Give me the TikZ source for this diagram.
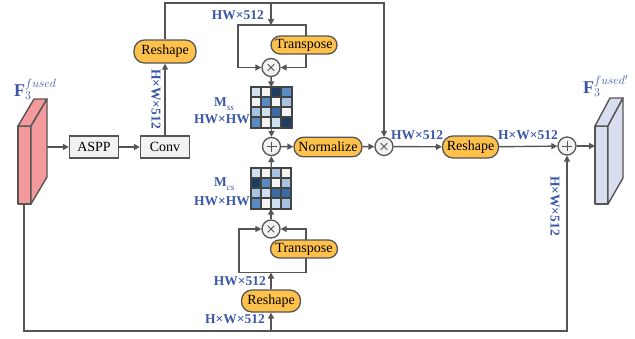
\documentclass[tikz,border=0pt]{standalone}
\usepackage{fontspec}
\setmainfont{Liberation Serif}
\usetikzlibrary{arrows.meta,calc}

\definecolor{linegray}{HTML}{555555}
\definecolor{pillfill}{HTML}{FEC24C}
\definecolor{boxfill}{HTML}{F2F2F2}
\definecolor{lblue}{HTML}{3A56A6}
\definecolor{pinkface}{HTML}{F4999C}
\definecolor{lavface}{HTML}{D8DEEF}
\definecolor{hm0}{HTML}{F4F4F4}
\definecolor{hm1}{HTML}{CFE0F1}
\definecolor{hm2}{HTML}{A6C4E2}
\definecolor{hm3}{HTML}{5A8CC4}
\definecolor{hm4}{HTML}{3B6CA3}
\definecolor{hm5}{HTML}{1E3B60}

% 4x4 heat map filling the square node #1, colours given row by row
\newcommand{\heatgrid}[2]{%
  \foreach \cellcol [count=\k from 0] in {#2} {%
    \pgfmathtruncatemacro{\hx}{mod(\k,4)}%
    \pgfmathtruncatemacro{\hy}{div(\k,4)}%
    \fill[\cellcol] ($(#1.north west)+(\hx*10,\hy*10)$) rectangle +(10,10);%
  }%
  \foreach \t in {10,20,30} {%
    \draw[gridline] ($(#1.north west)+(\t,0)$) -- +(0,40);%
    \draw[gridline] ($(#1.north west)+(0,\t)$) -- +(40,0);%
  }%
  \draw[gridline] (#1.north west) rectangle (#1.south east);%
}

\begin{document}
\begin{tikzpicture}[x=1pt,y=-1pt,
  wire/.style={draw=linegray, line width=1.4pt},
  conn/.style={wire, -{Triangle[length=6pt,width=6pt]}},
  gridline/.style={draw=linegray!80!black, line width=1.7pt, line cap=rect},
  opbox/.style={rectangle, draw=linegray, line width=1.3pt, fill=boxfill,
    minimum width=49pt, minimum height=22pt, inner sep=0pt,
    font=\fontsize{14}{16}\selectfont},
  pill/.style={rectangle, rounded corners=#1, draw=linegray, line width=1.3pt,
    fill=pillfill, minimum height=22pt, inner sep=0pt,
    font=\fontsize{14}{16}\selectfont},
  pill/.default=10.5pt,
  opcirc/.style={circle, draw=linegray, line width=1.3pt, fill=boxfill,
    minimum size=18pt, inner sep=0pt},
  mulop/.style={opcirc, path picture={
    \draw[linegray, line width=1pt]
      ($(path picture bounding box.center)+(-3.3,-3.3)$) -- +(6.6,6.6)
      ($(path picture bounding box.center)+(-3.3,3.3)$) -- +(6.6,-6.6);}},
  addop/.style={opcirc, path picture={
    \draw[linegray, line width=1pt]
      ($(path picture bounding box.center)+(-5,0)$) -- +(10,0)
      ($(path picture bounding box.center)+(0,-5)$) -- +(0,10);}},
  heat/.style={rectangle, minimum size=40pt, inner sep=0pt},
  dim/.style={text=lblue, inner sep=0pt, font=\fontsize{13.5}{15}\selectfont\bfseries},
  feat/.style={text=lblue, inner sep=0pt, font=\fontsize{18}{20}\selectfont},
  face/.style={draw=linegray, line width=1.4pt, line join=round}
]
\useasboundingbox (0,0) rectangle (635,338);

% input and output feature blocks
\filldraw[face, fill=pinkface] (18,126) rectangle (31,204);
\filldraw[face, fill=pinkface] (18,126) -- (34,99) -- (47,99) -- (31,126) -- cycle;
\filldraw[face, fill=pinkface] (31,126) -- (47,99) -- (47,177) -- (31,204) -- cycle;
\filldraw[face, fill=lavface] (595,126) rectangle (608,204);
\filldraw[face, fill=lavface] (595,126) -- (610,98) -- (623,98) -- (608,126) -- cycle;
\filldraw[face, fill=lavface] (608,126) -- (623,98) -- (623,178) -- (608,204) -- cycle;
\node[feat, anchor=base west] (fin) at (14,96) {$\mathbf{F}_3^{fused}$};
\node[feat, anchor=base west] (fout) at (583,93) {$\mathbf{F}_3^{fused'}$};

\coordinate (lout) at (47,147);
\coordinate (lbot) at (24,204);
\coordinate (rin) at (595,146);

% operation nodes
\node[opbox] (aspp) at (94,147) {ASPP};
\node[opbox] (conv) at (165,147) {Conv};
\node[pill, minimum width=62pt, minimum height=23pt] (rs1) at (165,51.5) {Reshape};
\node[mulop] (m1) at (271,67.5) {};
\node[heat] (mss) at (271.5,107.5) {};
\node[addop] (a1) at (271.5,146.5) {};
\node[pill=9.5pt, minimum width=68pt, minimum height=19.5pt] (nrm) at (328,147) {Normalize};
\node[mulop] (m2) at (384,146.5) {};
\node[pill, minimum width=56pt] (rs2) at (470.5,147) {Reshape};
\node[addop] (a2) at (567,146) {};
\node[heat] (mcs) at (271,188.5) {};
\node[mulop] (m3) at (271,229) {};
\node[pill, minimum width=59pt] (rs3) at (271,301) {Reshape};

\heatgrid{mss}{hm1,hm0,hm5,hm3, hm0,hm3,hm0,hm2, hm2,hm1,hm4,hm0, hm3,hm0,hm1,hm5}
\heatgrid{mcs}{hm1,hm0,hm2,hm0, hm5,hm3,hm0,hm2, hm2,hm1,hm4,hm4, hm3,hm0,hm1,hm2}

% helper points of the wiring
\coordinate (topL) at (165,3);
\coordinate (topM) at (271,3);
\coordinate (topR) at (384,3);
\coordinate (loopT) at (271,25);
\coordinate (loopB) at (271,272.5);
\coordinate (botL) at (24,331);
\coordinate (botM) at (271,331);

% main path
\draw[conn] (lout) -- (aspp);
\draw[conn] (aspp) -- (conv);
\draw[conn] (conv) -- (rs1);
\draw[conn] (rs1.north) -- (topL) -- (topR) -- (m2.north);
\draw[conn] (topM) -- (loopT);
\draw[conn] (loopT) -- (238,25) |- (m1.west);
\draw[conn] (loopT) -- (306,25) |- (m1.east);
\draw[conn] (m1) -- (mss);
\draw[conn] (mss) -- (a1);
\draw[conn] (a1) -- (nrm);
\draw[conn] (nrm) -- (m2);
\draw[conn] (m2) -- (rs2);
\draw[conn] (rs2) -- (a2);
\draw[conn] (a2) -- (rin);

% lower branch and skip connection
\draw[conn] (lbot) -- (botL) -| (a2.south);
\draw[conn] (botM) -- (rs3.south);
\draw[conn] (rs3) -- (loopB);
\draw[conn] (loopB) -- (239,272.5) |- (m3.west);
\draw[conn] (loopB) -- (306,272.5) |- (m3.east);
\draw[conn] (m3) -- (mcs);
\draw[conn] (mcs) -- (a1);

% transpose nodes sit on top of the loop wires
\node[pill=9pt, minimum width=66pt, minimum height=18pt] (tp1) at (304,45) {Transpose};
\node[pill=9pt, minimum width=67pt, minimum height=18pt] (tp2) at (304,249) {Transpose};

% dimension labels
\node[dim, anchor=base east] at (264,19) {HW×512};
\node[dim, rotate=-90] at (156,99) {H×W×512};
\node[dim, anchor=base west] at (214,106.5)
  {M\raisebox{-3.5pt}{\fontsize{9}{9}\selectfont\mdseries\itshape ss}};
\node[dim, anchor=base east] at (250,123) {HW×HW};
\node[dim, anchor=base west] at (214,186.5)
  {M\raisebox{-3.5pt}{\fontsize{9}{9}\selectfont\mdseries\itshape cs}};
\node[dim, anchor=base east] at (250,205.5) {HW×HW};
\node[dim, anchor=base west] at (391,139) {HW×512};
\node[dim, anchor=base west] at (498,139) {H×W×512};
\node[dim, rotate=-90] at (555,206) {H×W×512};
\node[dim, anchor=base east] at (266,285) {HW×512};
\node[dim, anchor=base east] at (265,323.5) {H×W×512};
\end{tikzpicture}
\end{document}
